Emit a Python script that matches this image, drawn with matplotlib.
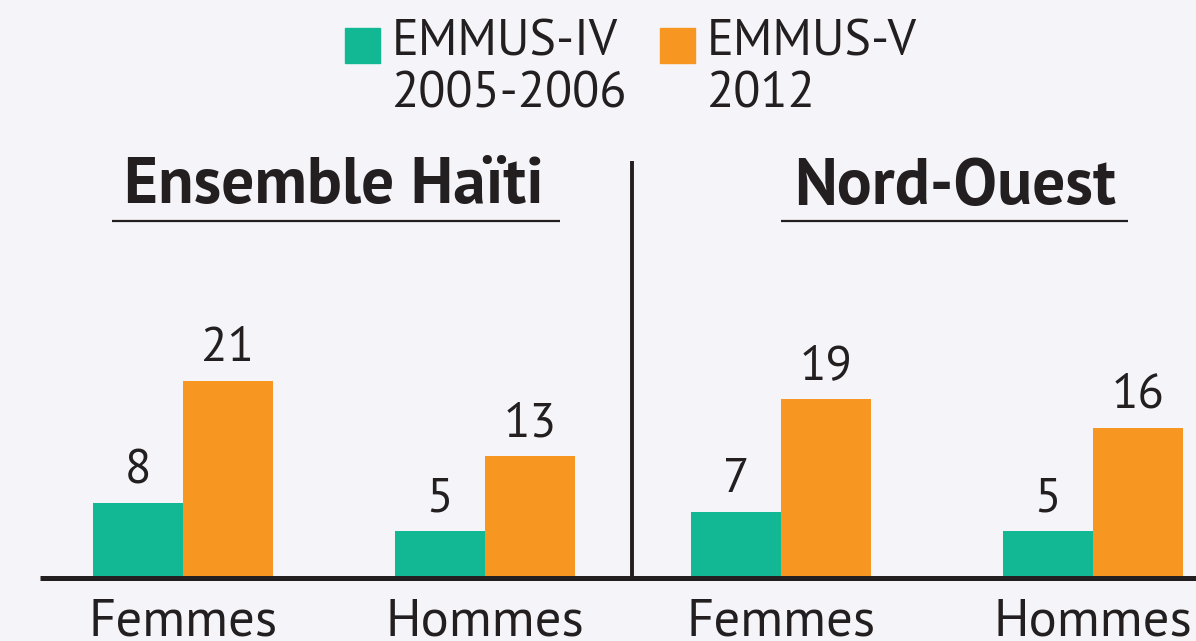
import matplotlib.pyplot as plt
from matplotlib.patches import Rectangle

# Données
regions = ['Ensemble Haïti', 'Nord-Ouest']
categories = ['Femmes', 'Hommes']
series = ['EMMUS-IV\n2005-2006', 'EMMUS-V\n2012']
emmus_iv = [8, 5, 7, 5]
emmus_v = [21, 13, 19, 16]

GREEN = '#12b894'
ORANGE = '#f79722'
TEXT = '#231f20'
BG = '#f5f5f9'
FONT = ['PT Sans', 'Noto Sans', 'DejaVu Sans']

W, H = 1196, 641
fig = plt.figure(figsize=(W / 100, H / 100), dpi=100, facecolor=BG)
ax = fig.add_axes([0, 0, 1, 1], facecolor=BG)
PX = 9.4  # pixels par unité
base = 63
ax.set_xlim(0, W)
ax.set_ylim(-base / PX, (H - base) / PX)
ax.axis('off')

bar_w = 90
for i in range(len(emmus_iv)):
    panel, cat = divmod(i, 2)
    center = 183 + cat * (302 + 10 * panel) + panel * 598
    for x0, val, col in [(center - bar_w, emmus_iv[i], GREEN), (center, emmus_v[i], ORANGE)]:
        ax.bar(x0, val, width=bar_w, align='edge', color=col, zorder=2)
        ax.annotate(str(val), (x0 + bar_w / 2, val), xytext=(0, 7), textcoords='offset points',
                    ha='center', va='bottom', fontsize=35, color=TEXT, family=FONT,
                    fontweight='normal')
    ax.text(center, -20 / PX, categories[cat], ha='center', va='top', fontsize=38,
            color=TEXT, family=FONT, fontweight='normal')

# ligne de base et séparateur
ax.plot([40, W], [0, 0], color=TEXT, lw=3.6, solid_capstyle='butt', zorder=3)
ax.plot([632, 632], [0, (578 - 161) / PX], color=TEXT, lw=2.8, solid_capstyle='butt', zorder=3)

# titres des panneaux
for name, cx, x1, x2 in [(regions[0], 334, 112, 560), (regions[1], 955, 781, 1128)]:
    fig.text(cx / W, 1 - 187 / H, name, ha='center', va='center', fontsize=47,
             fontweight='bold', color=TEXT, family=FONT)
    ax.plot([x1, x2], [(578 - 221) / PX] * 2, color=TEXT, lw=1.6, solid_capstyle='butt')

# légende
for sx, col, lab in [(345, GREEN, series[0]), (660, ORANGE, series[1])]:
    fig.add_artist(Rectangle((sx / W, 1 - 63 / H), 35 / W, 35 / H, transform=fig.transFigure,
                             color=col))
    fig.text((sx + 47) / W, 1 - 20 / H, lab, ha='left', va='top', fontsize=36,
             color=TEXT, family=FONT, fontweight='normal', linespacing=1.15)

fig.savefig('out.png', dpi=100, facecolor=BG)
